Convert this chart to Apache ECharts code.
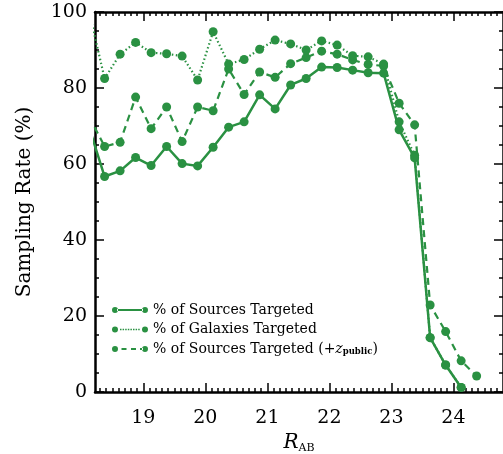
<!DOCTYPE html>
<html>
<head>
<meta charset="utf-8">
<script src="https://cdn.jsdelivr.net/npm/echarts@6/dist/echarts.min.js"></script>
<style>
html,body{margin:0;padding:0;background:#fff;}
#c{width:503px;height:454px;}
</style>
</head>
<body>
<div id="c"></div>
<script>
// R_AB bin centres (mag)
const magBins = [18.125, 18.375, 18.625, 18.875, 19.125, 19.375, 19.625, 19.875, 20.125, 20.375, 20.625, 20.875, 21.125,
                 21.375, 21.625, 21.875, 22.125, 22.375, 22.625, 22.875, 23.125, 23.375, 23.625, 23.875, 24.125, 24.375];
// % of Sources Targeted
const sourcesTargeted = [69.6, 56.7, 58.2, 61.7, 59.6, 64.6, 60.1, 59.5, 64.4, 69.7, 71.1, 78.2, 74.5,
                         80.8, 82.5, 85.5, 85.4, 84.7, 84.0, 83.9, 69.0, 61.6, 14.3, 7.1, 1.2, null];
// % of Galaxies Targeted
const galaxiesTargeted = [100, 82.5, 88.9, 92.0, 89.3, 89.0, 88.4, 82.1, 94.8, 86.3, 87.5, 90.2, 92.6,
                          91.6, 90.0, 92.4, 91.3, 88.5, 88.2, 86.3, 71.1, 62.3, 14.3, 7.1, 1.2, null];
// % of Sources Targeted (+z_public)
const sourcesTargetedZ = [72.5, 64.6, 65.7, 77.6, 69.3, 75.0, 65.9, 75.0, 74.0, 85.0, 78.3, 84.2, 82.8,
                          86.4, 88.0, 89.7, 88.9, 87.4, 86.2, 85.8, 76.0, 70.3, 22.9, 15.9, 8.2, 4.2];
const xTickLabels = [19, 20, 21, 22, 23, 24];
const yTickLabels = [0, 20, 40, 60, 80, 100];
const seriesNames = ['% of Sources Targeted', '% of Galaxies Targeted', '% of Sources Targeted (+z_public)'];

const xMin = 18.22, xMax = 24.8;
const xMinor = [];
for (let k = 183; k <= 247; k++) { if (k % 10 !== 0) xMinor.push(k / 10); }

const GREEN = '#2a9142';
const FONT = 'DejaVu Serif';
const pairs = vals => magBins.map((m, i) => [m, vals[i] === null ? '-' : vals[i]]);

const baseX = (pos, major) => ({
  type: 'value', min: xMin, max: xMax, position: pos,
  axisLine: { show: major, lineStyle: { color: '#000', width: 2.5 } },
  axisTick: { show: true, inside: true, length: major ? 9 : 4, customValues: major ? xTickLabels : xMinor,
              lineStyle: { color: '#000', width: 1.5 } },
  axisLabel: { show: false },
  splitLine: { show: false }
});

const xAxes = [baseX('bottom', true), baseX('bottom', false), baseX('top', true), baseX('top', false)];
xAxes[0].axisLabel = { show: true, customValues: xTickLabels, fontFamily: FONT, fontSize: 19, color: '#000', margin: 17 };
xAxes[0].name = '{i|R}{s|AB}';
xAxes[0].nameLocation = 'middle';
xAxes[0].nameGap = 40;
xAxes[0].nameTextStyle = {
  rich: {
    i: { fontFamily: FONT, fontStyle: 'italic', fontSize: 20, color: '#000' },
    s: { fontFamily: FONT, fontSize: 11, color: '#000', padding: [10, 0, 0, 0] }
  }
};

const baseY = (pos, labels) => ({
  type: 'value', min: 0, max: 100, interval: 20, position: pos,
  axisLine: { show: true, lineStyle: { color: '#000', width: 2.5 } },
  axisTick: { show: true, inside: true, length: 9, lineStyle: { color: '#000', width: 1.5 } },
  minorTick: { show: true, splitNumber: 4, length: 4, lineStyle: { color: '#000', width: 1.5 } },
  axisLabel: labels ? { show: true, fontFamily: FONT, fontSize: 19, color: '#000', margin: 8 } : { show: false },
  splitLine: { show: false }, minorSplitLine: { show: false }
});
const yAxes = [baseY('left', true), baseY('right', false)];
yAxes[0].name = 'Sampling Rate (%)';
yAxes[0].nameLocation = 'middle';
yAxes[0].nameGap = 60;
yAxes[0].nameTextStyle = { fontFamily: FONT, fontSize: 20, color: '#000' };

const dotCircle = (cx) => `M${cx - 3},3a3,3 0 1,0 6,0a3,3 0 1,0 -6,0z`;
const iconSolid = 'path://' + dotCircle(3) + dotCircle(33) + 'M5,2.1h26v1.8h-26z';
let dots = '';
for (let p = 8; p <= 27; p += 2.6) dots += `M${p},2.2h1.5v1.5h-1.5z`;
const iconDotted = 'path://' + dotCircle(3) + dotCircle(33) + dots;
const iconDashed = 'path://' + dotCircle(3) + dotCircle(33) + 'M9.5,2h5v2h-5zM19,2h5v2h-5zM28,2h3v2h-3z';

const mkSeries = (name, vals, type) => ({
  name, type: 'line', data: pairs(vals), xAxisIndex: 0, yAxisIndex: 0,
  symbol: 'circle', symbolSize: 9, showSymbol: true,
  itemStyle: { color: GREEN },
  lineStyle: { color: GREEN, width: type === 'solid' ? 2.5 : 2.2, type: type === 'dotted' ? [1.5, 2.5] : (type === 'dashed' ? [7, 5] : 'solid') },
  clip: true, animation: false, emphasis: { disabled: true }
});

const option = {
  animation: false,
  grid: { left: 95, top: 12, width: 408, height: 380, containLabel: false, outerBoundsMode: 'none' },
  xAxis: xAxes,
  yAxis: yAxes,
  legend: {
    orient: 'vertical', left: 107, top: 297, itemGap: 3.5, itemWidth: 36, itemHeight: 6,
    itemStyle: { borderWidth: 0 },
    selectedMode: false,
    data: [
      { name: seriesNames[0], icon: iconSolid },
      { name: seriesNames[1], icon: iconDotted },
      { name: seriesNames[2], icon: iconDashed }
    ],
    formatter: n => n === seriesNames[2] ? '% of Sources Targeted (+{i|z}{s|public})' : n,
    textStyle: {
      fontFamily: FONT, fontSize: 14, color: '#000', lineHeight: 16,
      rich: {
        i: { fontFamily: FONT, fontStyle: 'italic', fontSize: 14, color: '#000' },
        s: { fontFamily: FONT, fontSize: 8.5, fontWeight: 'bold', color: '#000', padding: [6, 0, 0, 0] }
      }
    }
  },
  series: [
    mkSeries(seriesNames[2], sourcesTargetedZ, 'dashed'),
    mkSeries(seriesNames[1], galaxiesTargeted, 'dotted'),
    mkSeries(seriesNames[0], sourcesTargeted, 'solid')
  ]
};
const chart = echarts.init(document.getElementById('c'), null, { renderer: 'canvas' });
chart.setOption(option);
</script>
</body>
</html>
